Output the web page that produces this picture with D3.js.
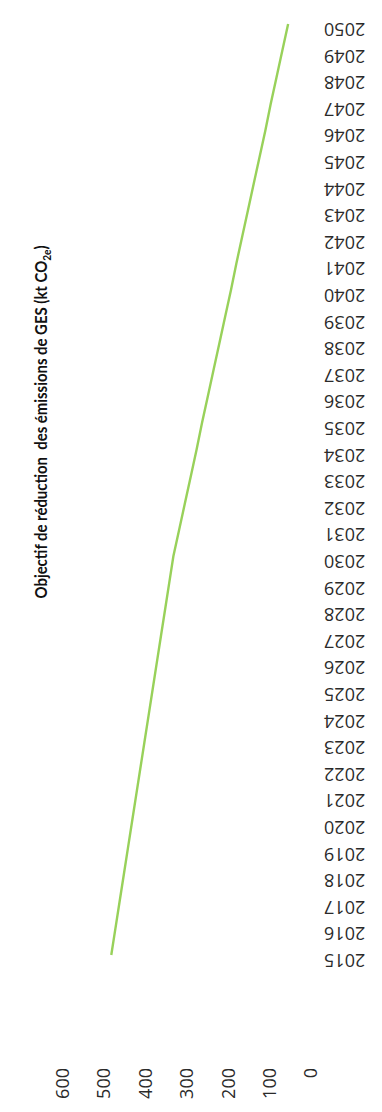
<!DOCTYPE html>
<html>
<head>
<meta charset="utf-8">
<script src="https://cdn.jsdelivr.net/npm/d3@7"></script>
<style>
  html, body { margin: 0; padding: 0; background: #ffffff; }
  svg { display: block; }
</style>
</head>
<body>
<div id="chart"></div>
<script>
// ---- data ----
const years = [2015, 2016, 2017, 2018, 2019, 2020, 2021, 2022, 2023, 2024, 2025, 2026,
               2027, 2028, 2029, 2030, 2031, 2032, 2033, 2034, 2035, 2036, 2037, 2038,
               2039, 2040, 2041, 2042, 2043, 2044, 2045, 2046, 2047, 2048, 2049, 2050];
const reductionTarget = [481, 471, 461, 451, 441, 431, 421, 411, 401, 391, 381, 371,
                         361, 351, 341, 331, 317, 303, 289, 275, 262, 248, 234, 220,
                         206, 192, 179, 165, 151, 137, 123, 109, 96, 82, 68, 54];
const valueTicks = [0, 100, 200, 300, 400, 500, 600];
const titleMain = "Objectif de réduction\u00A0 des émissions de GES (kt CO";
const titleSub = "2e";
const titleEnd = ")";

// ---- layout ----
const W = 382, H = 1112;          // page size

const svg = d3.select("#chart").append("svg")
  .attr("width", W).attr("height", H);

// chart drawn unrotated (years left→right), then turned -90deg
const g = svg.append("g")
  .attr("transform", `translate(0,${H}) rotate(-90)`);

const x = d3.scalePoint().domain(years).range([157, 1088]);
const y = d3.scaleLinear().domain([0, 600]).range([310.5, 62]);

const font = "'Open Sans', 'DejaVu Sans', sans-serif";

// value axis labels
const yAxis = d3.axisLeft(y).tickValues(valueTicks).tickSize(0).tickPadding(0);
const yg = g.append("g").attr("transform", "translate(44,0)").call(yAxis);
yg.select(".domain").remove();
yg.selectAll("text")
  .attr("font-family", font).attr("font-size", 18).attr("fill", "#2a2a2a")
  .attr("x", 0).attr("dy", "0.36em");

// year axis labels (rotated)
const xAxis = d3.axisBottom(x).tickSize(0).tickPadding(0);
const xg = g.append("g").attr("transform", "translate(-6,324)").call(xAxis);
xg.select(".domain").remove();
xg.selectAll("text")
  .attr("font-family", font).attr("font-size", 18).attr("fill", "#2a2a2a")
  .attr("text-anchor", "end")
  .attr("y", 0).attr("dy", "0.36em")
  .attr("transform", "rotate(-90)");

// line
const line = d3.line()
  .x((d, i) => x(years[i]))
  .y(d => y(d));
g.append("path")
  .datum(reductionTarget)
  .attr("fill", "none")
  .attr("stroke", "#98d15a")
  .attr("stroke-width", 2.4)
  .attr("stroke-linejoin", "round")
  .attr("d", line);

// title
const title = g.append("text")
  .attr("x", 690).attr("y", 47)
  .attr("text-anchor", "middle")
  .attr("textLength", 353)
  .attr("lengthAdjust", "spacingAndGlyphs")
  .attr("font-family", "Lato, 'Open Sans', sans-serif").attr("font-weight", "bold")
  .attr("font-size", 17).attr("fill", "#111");
title.append("tspan").text(titleMain);
title.append("tspan").attr("font-size", 11.5).attr("dy", 4).text(titleSub);
title.append("tspan").attr("dy", -4).text(titleEnd);
</script>
</body>
</html>
